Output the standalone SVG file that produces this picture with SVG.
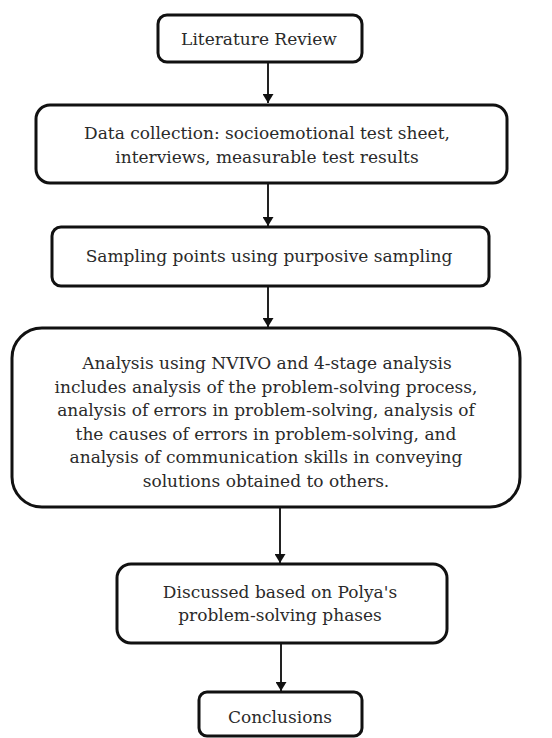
<svg xmlns="http://www.w3.org/2000/svg" width="552" height="738" viewBox="0 0 552 738">
<style>
.box{fill:#fff;stroke:#111;stroke-width:3}
.t{font-family:'DejaVu Serif','Liberation Serif',serif;font-size:17px;fill:#2a2a2a;text-anchor:middle}
.c{stroke:#222;stroke-width:2;fill:none}
</style>
<defs>
<marker id="ah" viewBox="0 0 10 10" refX="10" refY="5" markerWidth="9" markerHeight="11" orient="auto" markerUnits="userSpaceOnUse" preserveAspectRatio="none">
<path d="M0,0 L10,5 L0,10 Z" fill="#111"/>
</marker>
</defs>
<rect width="552" height="738" fill="#fff"/>
<g id="connectors">
<line class="c" x1="268" y1="62" x2="268" y2="103" marker-end="url(#ah)"/>
<line class="c" x1="268" y1="183" x2="268" y2="226" marker-end="url(#ah)"/>
<line class="c" x1="268" y1="286" x2="268" y2="327" marker-end="url(#ah)"/>
<line class="c" x1="280" y1="507" x2="280" y2="563" marker-end="url(#ah)"/>
<line class="c" x1="281" y1="643" x2="281" y2="691" marker-end="url(#ah)"/>
</g>
<g id="n1">
<rect class="box" x="158" y="15" width="204" height="47" rx="9"/>
<text class="t" x="259" y="45">Literature Review</text>
</g>
<g id="n2">
<rect class="box" x="36" y="105" width="471" height="78" rx="14"/>
<text class="t" x="267" y="139">Data collection: socioemotional test sheet,</text>
<text class="t" x="267" y="163">interviews, measurable test results</text>
</g>
<g id="n3">
<rect class="box" x="52" y="227" width="437" height="59" rx="9"/>
<text class="t" x="269" y="262">Sampling points using purposive sampling</text>
</g>
<g id="n4">
<rect class="box" x="12" y="328" width="508" height="179" rx="30"/>
<text class="t" x="267" y="369">Analysis using NVIVO and 4-stage analysis</text>
<text class="t" x="266" y="393">includes analysis of the problem-solving process,</text>
<text class="t" x="266" y="416">analysis of errors in problem-solving, analysis of</text>
<text class="t" x="266" y="440">the causes of errors in problem-solving, and</text>
<text class="t" x="266" y="463">analysis of communication skills in conveying</text>
<text class="t" x="266" y="487">solutions obtained to others.</text>
</g>
<g id="n5">
<rect class="box" x="117" y="564" width="330" height="79" rx="14"/>
<text class="t" x="280" y="598">Discussed based on Polya's</text>
<text class="t" x="280" y="621">problem-solving phases</text>
</g>
<g id="n6">
<rect class="box" x="199" y="692" width="163" height="44" rx="8"/>
<text class="t" x="280" y="723">Conclusions</text>
</g>
</svg>
